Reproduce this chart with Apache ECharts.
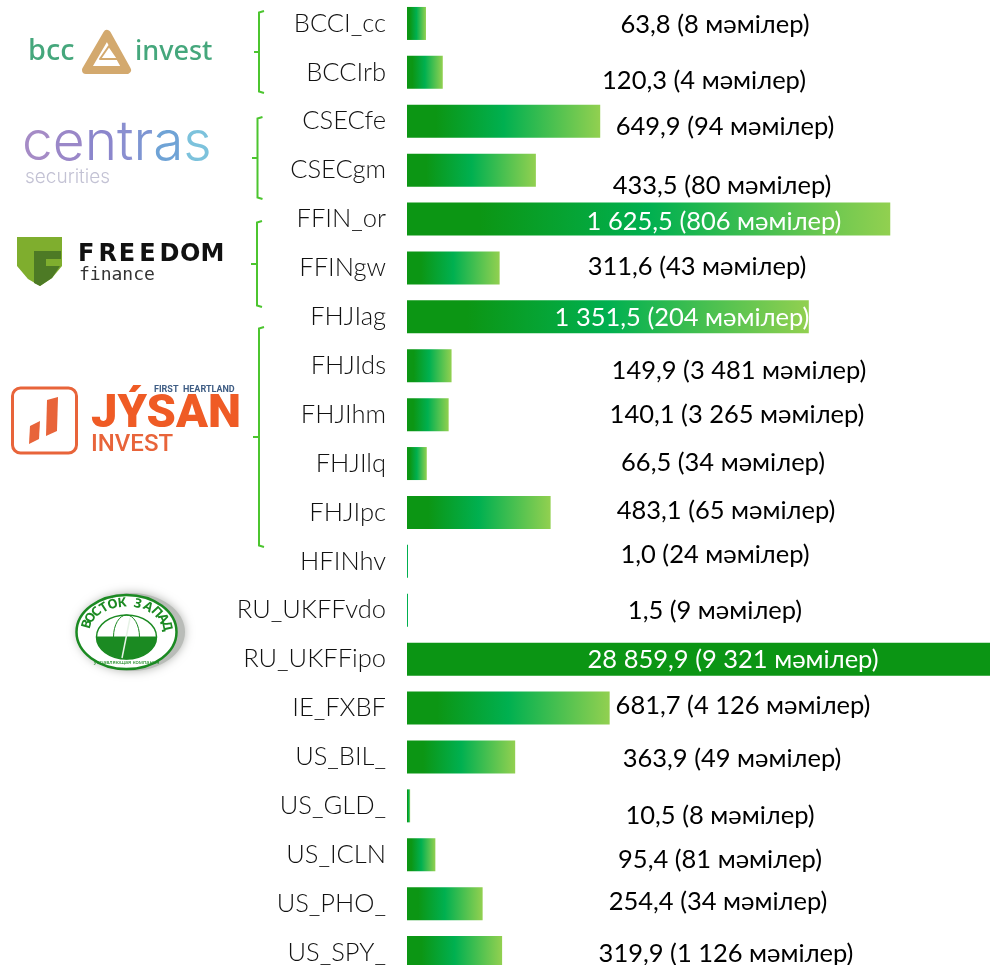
<!DOCTYPE html>
<html><head><meta charset="utf-8">
<style>html,body{margin:0;padding:0;background:#fff}#c{width:990px;height:965px;overflow:hidden}</style>
<script src="https://cdn.jsdelivr.net/npm/echarts@6/dist/echarts.min.js"></script>
</head><body><div id="c"></div>
<script>
var categories = ['BCCI_cc','BCCIrb','CSECfe','CSECgm','FFIN_or','FFINgw','FHJIag','FHJIds','FHJIhm','FHJIlq','FHJIpc','HFINhv','RU_UKFFvdo','RU_UKFFipo','IE_FXBF','US_BIL_','US_GLD_','US_ICLN','US_PHO_','US_SPY_'];
var volumes = [63.8,120.3,649.9,433.5,1625.5,311.6,1351.5,149.9,140.1,66.5,483.1,1.0,1.5,28859.9,681.7,363.9,10.5,95.4,254.4,319.9];
var deals = ['8','4','94','80','806','43','204','3 481','3 265','34','65','24','9','9 321','4 126','49','8','81','34','1 126'];
var whiteLabelRows = ['FFIN_or','FHJIag','RU_UKFFipo'];
var solidRows = ['RU_UKFFipo'];
// label placement as in the reference (centre x measured from bar start, y shift from row centre)
var labelDx = [308,297,318,315,307,290,275,332,330,316,319,308,308,326,336,325,313,313,311,319];
var labelDy = [1,8,6,16,3,-1,1,5,0,-1,-2,-7,1,1,-2,2,10,5,-2,1];

function fmt(v){
  var s = v.toFixed(1).split('.');
  return s[0].replace(/\B(?=(\d{3})+$)/g,' ') + ',' + s[1];
}
var BAR_H = 33;
var grad = {type:'linear',x:0,y:0,x2:1,y2:0,colorStops:[
  {offset:0,color:'#0c9614'},{offset:0.15,color:'#0c9614'},{offset:0.5,color:'#00b050'},{offset:1,color:'#92d050'}]};
var barData = volumes.map(function(v,i){
  var name = categories[i];
  return {
    value:v,
    itemStyle:{color: solidRows.indexOf(name)>=0 ? '#0b9514' : grad},
    label:{
      show:true,
      formatter: fmt(v)+' ('+deals[i]+' мәмілер)',
      position:[labelDx[i], BAR_H/2+labelDy[i]],
      align:'center', verticalAlign:'middle',
      color: whiteLabelRows.indexOf(name)>=0 ? '#ffffff' : '#000000',
      fontFamily:'Lato', fontSize:25.5
    }
  };
});

function bracket(x,top,bottom,mid,left){
  return {type:'polyline',silent:true,z:5,
    shape:{points:[[x+5,top],[x,top+1.5],[x,mid],[left,mid],[x,mid],[x,bottom-1.5],[x+5,bottom]]},
    style:{stroke:'#4cc52f',lineWidth:2,fill:null}};
}
function txt(x,y,t,font,fill,extra){
  var st = {x:x,y:y,text:t,font:font,fill:fill,textAlign:'left',textVerticalAlign:'middle'};
  if(extra){for(var k in extra)st[k]=extra[k];}
  return {type:'text',silent:true,z:6,style:st};
}
var graphics = [
  bracket(259,11,93,52,254),
  bracket(257.5,117,199,158,252),
  bracket(257,221,307,264,251),
  bracket(259,327,547,437,253),
  // bcc invest
  txt(28,52,'bcc','500 29px "Noto Sans"','#45a77c'),
  {type:'polygon',silent:true,z:6,shape:{points:[[107,34],[127,70],[86,70]]},style:{fill:'none',stroke:'#d3a96e',lineWidth:8,lineJoin:'round'}},
  {type:'polygon',silent:true,z:7,shape:{points:[[109,46],[118,59],[100,59]]},style:{fill:'#fff',stroke:'#d3a96e',lineWidth:2,lineJoin:'round'}},
  txt(135,52,'invest','500 27px "Noto Sans"','#45a77c'),
  // centras
  {type:'text',silent:true,z:6,style:{x:22,y:143,textVerticalAlign:'middle',
    text:'{a|c}{b|e}{c|n}{d|t}{e|r}{f|a}{g|s}',
    rich:{a:{fill:'#a58bc6',font:'300 55px Inter'},b:{fill:'#9a87c8',font:'300 55px Inter'},c:{fill:'#8b86cc',font:'300 55px Inter'},d:{fill:'#8a8fd0',font:'300 55px Inter'},e:{fill:'#7e95d2',font:'300 55px Inter'},f:{fill:'#6fa3d6',font:'300 55px Inter'},g:{fill:'#7cc2dc',font:'300 55px Inter'}}}},
  txt(25,177,'securities','300 19px Inter','#c3c2d4'),
  // freedom finance
  {type:'polygon',silent:true,z:6,shape:{points:[[17,237],[62,237],[62,266],[52,278],[40,286],[28,279],[17,266]]},style:{fill:'#7fae2e'}},
  {type:'polygon',silent:true,z:7,shape:{points:[[34,251],[61,251],[61,259],[46,259],[46,266],[60,266],[52,278],[40,286],[34,283]]},style:{fill:'#4d7a25'}},
  txt(79,275,'finance','400 18px "DejaVu Sans Mono"','#333'),
  // jysan invest
  {type:'rect',silent:true,z:6,shape:{x:12.5,y:388,width:64,height:65,r:8},style:{fill:'#fff',stroke:'#e8643a',lineWidth:3}},
  {type:'polygon',silent:true,z:7,shape:{points:[[47,400],[58,397],[57,431],[46,436]]},style:{fill:'#e8643a'}},
  {type:'polygon',silent:true,z:7,shape:{points:[[30,426],[40,421],[39,439],[29,444]]},style:{fill:'#e8643a'}},
  txt(154,390,'FIRST  HEARTLAND','700 9px Roboto','#3f5d84'),
  txt(91,415,'JÝSAN','900 47px Roboto','#ef5b25'),
  txt(91,445,'INVEST','500 24px Roboto','#e8643a'),
  // vostok-zapad
  {type:'ellipse',silent:true,z:5,shape:{cx:131,cy:632,rx:54,ry:39},style:{fill:'#b9bcb8',shadowBlur:10,shadowColor:'#b0b2ae'}},
  {type:'ellipse',silent:true,z:6,shape:{cx:126.5,cy:632,rx:50,ry:37},style:{fill:'#ffffff',stroke:'#1b8a22',lineWidth:2.5}},
  {type:'ellipse',silent:true,z:7,shape:{cx:126.5,cy:637,rx:30,ry:22},style:{fill:'none',stroke:'#1b8a22',lineWidth:1.5}},
  {type:'line',silent:true,z:7,shape:{x1:96.5,y1:637,x2:156.5,y2:637},style:{stroke:'#1b8a22',lineWidth:1}},
  {type:'line',silent:true,z:8,shape:{x1:130,y1:618,x2:122,y2:658},style:{stroke:'#e6f2e6',lineWidth:1.5}},
  {type:'ellipse',silent:true,z:7,shape:{cx:126.5,cy:637,rx:13,ry:22},style:{fill:'none',stroke:'#1b8a22',lineWidth:1}}
];
// lower half of the globe
var half = [];
for (var t = 0; t <= 24; t++) {
  var ang = Math.PI * t / 24;
  half.push([126.5 + 30 * Math.cos(ang), 637 + 22 * Math.sin(ang)]);
}
graphics.push({type:'polygon',silent:true,z:7,shape:{points:half},style:{fill:'#1b8a22'}});
// letter-spaced wordmark
var word = 'FREEDOM';
for (var w = 0; w < word.length; w++) {
  graphics.push({type:'text',silent:true,z:6,x:78 + w * 20.4,y:255,style:{text:word[w],font:'900 24px "DejaVu Sans"',fill:'#111',textAlign:'left',textVerticalAlign:'middle'}});
}
// ring lettering of the last logo
var ringChars = 'ВОСТОК';
var ringChars2 = 'ЗАПАД';
function ringText(str,a0,a1){
  for(var i=0;i<str.length;i++){
    var a = a0 + (a1-a0)*i/(str.length-1);
    var r = a*Math.PI/180;
    graphics.push({type:'text',silent:true,z:8,x:126.5+41*Math.sin(r),y:632-29*Math.cos(r),rotation:-r,
      style:{text:str[i],font:'700 13px "Noto Sans"',fill:'#1b8a22',textAlign:'center',textVerticalAlign:'middle'}});
  }
}
ringText(ringChars,-74,-6);
ringText(ringChars2,16,78);
graphics.push({type:'text',silent:true,z:8,x:126.5,y:662,style:{text:'управляющая компания',font:'400 5.5px "Noto Sans"',fill:'#1b8a22',textAlign:'center',textVerticalAlign:'middle'}});

var chart = echarts.init(document.getElementById('c'),null,{renderer:'canvas',width:990,height:965});
chart.setOption({
  animation:false,
  backgroundColor:'#ffffff',
  grid:{left:407,top:-1,width:583,height:978,containLabel:false,outerBoundsMode:'none'},
  xAxis:{type:'value',min:0,max:1961,show:false},
  yAxis:{type:'category',inverse:true,data:categories,
    axisLine:{show:false},axisTick:{show:false},
    axisLabel:{margin:21,color:'#111',fontFamily:'Lato',fontWeight:300,fontSize:25.5,interval:0}},
  series:[{type:'bar',data:barData,barWidth:BAR_H,barMinHeight:1,clip:true}],
  graphic:graphics
});
</script></body></html>
